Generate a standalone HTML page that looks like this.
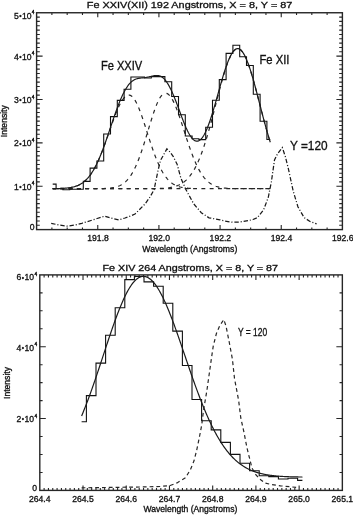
<!DOCTYPE html>
<html><head><meta charset="utf-8"><style>html,body{margin:0;padding:0;background:#fff;width:353px;height:515px;overflow:hidden}svg{filter:grayscale(1)}</style></head>
<body><svg width="353" height="515" viewBox="0 0 353 515" style="display:block">
<rect width="353" height="515" fill="#fff"/>
<path d="M51.89 229.6V227.4M51.89 12.75V14.95M67.18 229.6V227.4M67.18 12.75V14.95M82.47 229.6V227.4M82.47 12.75V14.95M97.76 229.6V225.1M97.76 12.75V17.25M113.05 229.6V227.4M113.05 12.75V14.95M128.34 229.6V227.4M128.34 12.75V14.95M143.63 229.6V227.4M143.63 12.75V14.95M158.92 229.6V225.1M158.92 12.75V17.25M174.21 229.6V227.4M174.21 12.75V14.95M189.5 229.6V227.4M189.5 12.75V14.95M204.79 229.6V227.4M204.79 12.75V14.95M220.08 229.6V225.1M220.08 12.75V17.25M235.37 229.6V227.4M235.37 12.75V14.95M250.66 229.6V227.4M250.66 12.75V14.95M265.95 229.6V227.4M265.95 12.75V14.95M281.24 229.6V225.1M281.24 12.75V17.25M296.53 229.6V227.4M296.53 12.75V14.95M311.82 229.6V227.4M311.82 12.75V14.95M327.11 229.6V227.4M327.11 12.75V14.95M36.6 225.26H39.8M342.4 225.26H339.2M36.6 220.93H39.8M342.4 220.93H339.2M36.6 216.59H39.8M342.4 216.59H339.2M36.6 212.25H39.8M342.4 212.25H339.2M36.6 207.91H39.8M342.4 207.91H339.2M36.6 203.58H39.8M342.4 203.58H339.2M36.6 199.24H39.8M342.4 199.24H339.2M36.6 194.9H39.8M342.4 194.9H339.2M36.6 190.57H39.8M342.4 190.57H339.2M36.6 186.23H42.6M342.4 186.23H336.4M36.6 181.89H39.8M342.4 181.89H339.2M36.6 177.56H39.8M342.4 177.56H339.2M36.6 173.22H39.8M342.4 173.22H339.2M36.6 168.88H39.8M342.4 168.88H339.2M36.6 164.54H39.8M342.4 164.54H339.2M36.6 160.21H39.8M342.4 160.21H339.2M36.6 155.87H39.8M342.4 155.87H339.2M36.6 151.53H39.8M342.4 151.53H339.2M36.6 147.2H39.8M342.4 147.2H339.2M36.6 142.86H42.6M342.4 142.86H336.4M36.6 138.52H39.8M342.4 138.52H339.2M36.6 134.19H39.8M342.4 134.19H339.2M36.6 129.85H39.8M342.4 129.85H339.2M36.6 125.51H39.8M342.4 125.51H339.2M36.6 121.17H39.8M342.4 121.17H339.2M36.6 116.84H39.8M342.4 116.84H339.2M36.6 112.5H39.8M342.4 112.5H339.2M36.6 108.16H39.8M342.4 108.16H339.2M36.6 103.83H39.8M342.4 103.83H339.2M36.6 99.49H42.6M342.4 99.49H336.4M36.6 95.15H39.8M342.4 95.15H339.2M36.6 90.82H39.8M342.4 90.82H339.2M36.6 86.48H39.8M342.4 86.48H339.2M36.6 82.14H39.8M342.4 82.14H339.2M36.6 77.81H39.8M342.4 77.81H339.2M36.6 73.47H39.8M342.4 73.47H339.2M36.6 69.13H39.8M342.4 69.13H339.2M36.6 64.79H39.8M342.4 64.79H339.2M36.6 60.46H39.8M342.4 60.46H339.2M36.6 56.12H42.6M342.4 56.12H336.4M36.6 51.78H39.8M342.4 51.78H339.2M36.6 47.45H39.8M342.4 47.45H339.2M36.6 43.11H39.8M342.4 43.11H339.2M36.6 38.77H39.8M342.4 38.77H339.2M36.6 34.44H39.8M342.4 34.44H339.2M36.6 30.1H39.8M342.4 30.1H339.2M36.6 25.76H39.8M342.4 25.76H339.2M36.6 21.42H39.8M342.4 21.42H339.2M36.6 17.09H39.8M342.4 17.09H339.2" stroke="#262626" stroke-width="1.1" fill="none"/>
<rect x="36.6" y="12.75" width="305.8" height="216.85" stroke="#262626" stroke-width="1.4" fill="none"/>
<path d="M52.7 188.7H270.3" stroke="#262626" stroke-width="1.2" fill="none" stroke-dasharray="3.9 4.4" stroke-dashoffset="0.7"/>
<path d="M52.7 188.65 L53.43 188.64 L54.15 188.63 L54.88 188.62 L55.6 188.61 L56.33 188.59 L57.05 188.58 L57.78 188.56 L58.5 188.54 L59.23 188.52 L59.95 188.49 L60.68 188.47 L61.4 188.44 L62.13 188.4 L62.85 188.36 L63.58 188.32 L64.31 188.27 L65.03 188.21 L65.76 188.15 L66.48 188.08 L67.21 188 L67.93 187.92 L68.66 187.83 L69.38 187.72 L70.11 187.61 L70.83 187.48 L71.56 187.34 L72.28 187.19 L73.01 187.02 L73.73 186.84 L74.46 186.64 L75.19 186.42 L75.91 186.18 L76.64 185.92 L77.36 185.64 L78.09 185.33 L78.81 185 L79.54 184.64 L80.26 184.25 L80.99 183.83 L81.71 183.38 L82.44 182.89 L83.16 182.37 L83.89 181.81 L84.61 181.21 L85.34 180.57 L86.07 179.88 L86.79 179.15 L87.52 178.38 L88.24 177.56 L88.97 176.69 L89.69 175.76 L90.42 174.79 L91.14 173.76 L91.87 172.68 L92.59 171.55 L93.32 170.35 L94.04 169.11 L94.77 167.8 L95.49 166.44 L96.22 165.02 L96.95 163.55 L97.67 162.02 L98.4 160.44 L99.12 158.8 L99.85 157.11 L100.57 155.37 L101.3 153.58 L102.02 151.75 L102.75 149.87 L103.47 147.96 L104.2 146 L104.92 144.02 L105.65 142 L106.37 139.96 L107.1 137.9 L107.83 135.83 L108.55 133.74 L109.28 131.65 L110 129.56 L110.73 127.48 L111.45 125.41 L112.18 123.35 L112.9 121.33 L113.63 119.33 L114.35 117.37 L115.08 115.46 L115.8 113.59 L116.53 111.78 L117.25 110.04 L117.98 108.36 L118.71 106.77 L119.43 105.25 L120.16 103.82 L120.88 102.48 L121.61 101.24 L122.33 100.1 L123.06 99.07 L123.78 98.14 L124.51 97.34 L125.23 96.65 L125.96 96.08 L126.68 95.64 L127.41 95.31 L128.13 95.12 L128.86 95.05 L129.59 95.12 L130.31 95.34 L131.04 95.7 L131.76 96.22 L132.49 96.88 L133.21 97.68 L133.94 98.61 L134.66 99.68 L135.39 100.88 L136.11 102.2 L136.84 103.64 L137.56 105.19 L138.29 106.84 L139.01 108.59 L139.74 110.42 L140.47 112.34 L141.19 114.32 L141.92 116.37 L142.64 118.48 L143.37 120.64 L144.09 122.83 L144.82 125.06 L145.54 127.31 L146.27 129.57 L146.99 131.85 L147.72 134.12 L148.44 136.38 L149.17 138.64 L149.89 140.87 L150.62 143.07 L151.35 145.25 L152.07 147.38 L152.8 149.48 L153.52 151.52 L154.25 153.52 L154.97 155.46 L155.7 157.35 L156.42 159.18 L157.15 160.94 L157.87 162.64 L158.6 164.28 L159.32 165.85 L160.05 167.35 L160.77 168.79 L161.5 170.16 L162.23 171.46 L162.95 172.7 L163.68 173.87 L164.4 174.98 L165.13 176.02 L165.85 177.01 L166.58 177.93 L167.3 178.8 L168.03 179.61 L168.75 180.37 L169.48 181.08 L170.2 181.74 L170.93 182.35 L171.65 182.92 L172.38 183.44 L173.11 183.93 L173.83 184.38 L174.56 184.79 L175.28 185.17 L176.01 185.51 L176.73 185.83 L177.46 186.12 L178.18 186.38 L178.91 186.63 L179.63 186.84 L180.36 187.04 L181.08 187.22 L181.81 187.38 L182.53 187.53 L183.26 187.66 L183.99 187.78 L184.71 187.89 L185.44 187.98 L186.16 188.07 L186.89 188.14 L187.61 188.21 L188.34 188.27 L189.06 188.32 L189.79 188.37 L190.51 188.41 L191.24 188.45 L191.96 188.48" stroke="#262626" stroke-width="1.2" fill="none" stroke-dasharray="3.9 4.4" stroke-dashoffset="0.7"/>
<path d="M52.7 188.7 L53.43 188.7 L54.15 188.7 L54.88 188.7 L55.6 188.7 L56.33 188.7 L57.05 188.7 L57.78 188.7 L58.5 188.7 L59.23 188.7 L59.95 188.7 L60.68 188.7 L61.4 188.7 L62.13 188.7 L62.85 188.7 L63.58 188.7 L64.31 188.7 L65.03 188.7 L65.76 188.7 L66.48 188.7 L67.21 188.7 L67.93 188.7 L68.66 188.7 L69.38 188.7 L70.11 188.7 L70.83 188.7 L71.56 188.7 L72.28 188.7 L73.01 188.7 L73.73 188.7 L74.46 188.7 L75.19 188.7 L75.91 188.7 L76.64 188.7 L77.36 188.7 L78.09 188.7 L78.81 188.7 L79.54 188.7 L80.26 188.7 L80.99 188.7 L81.71 188.7 L82.44 188.7 L83.16 188.7 L83.89 188.7 L84.61 188.7 L85.34 188.7 L86.07 188.7 L86.79 188.7 L87.52 188.7 L88.24 188.69 L88.97 188.69 L89.69 188.69 L90.42 188.69 L91.14 188.69 L91.87 188.69 L92.59 188.68 L93.32 188.68 L94.04 188.68 L94.77 188.67 L95.49 188.67 L96.22 188.66 L96.95 188.66 L97.67 188.65 L98.4 188.64 L99.12 188.63 L99.85 188.62 L100.57 188.61 L101.3 188.59 L102.02 188.57 L102.75 188.55 L103.47 188.53 L104.2 188.5 L104.92 188.47 L105.65 188.43 L106.37 188.39 L107.1 188.35 L107.83 188.29 L108.55 188.24 L109.28 188.17 L110 188.09 L110.73 188.01 L111.45 187.91 L112.18 187.8 L112.9 187.68 L113.63 187.55 L114.35 187.4 L115.08 187.23 L115.8 187.04 L116.53 186.84 L117.25 186.61 L117.98 186.35 L118.71 186.08 L119.43 185.77 L120.16 185.43 L120.88 185.06 L121.61 184.66 L122.33 184.21 L123.06 183.73 L123.78 183.21 L124.51 182.64 L125.23 182.02 L125.96 181.36 L126.68 180.64 L127.41 179.86 L128.13 179.03 L128.86 178.14 L129.59 177.18 L130.31 176.17 L131.04 175.08 L131.76 173.93 L132.49 172.71 L133.21 171.41 L133.94 170.04 L134.66 168.6 L135.39 167.09 L136.11 165.5 L136.84 163.84 L137.56 162.11 L138.29 160.3 L139.01 158.43 L139.74 156.49 L140.47 154.48 L141.19 152.41 L141.92 150.28 L142.64 148.09 L143.37 145.86 L144.09 143.58 L144.82 141.26 L145.54 138.91 L146.27 136.53 L146.99 134.13 L147.72 131.73 L148.44 129.32 L149.17 126.91 L149.89 124.52 L150.62 122.15 L151.35 119.81 L152.07 117.52 L152.8 115.27 L153.52 113.09 L154.25 110.97 L154.97 108.93 L155.7 106.99 L156.42 105.14 L157.15 103.39 L157.87 101.76 L158.6 100.25 L159.32 98.87 L160.05 97.63 L160.77 96.53 L161.5 95.58 L162.23 94.78 L162.95 94.14 L163.68 93.66 L164.4 93.34 L165.13 93.19" stroke="#262626" stroke-width="1.2" fill="none" stroke-dasharray="3.9 4.4" stroke-dashoffset="0.7"/>
<path d="M165.44 93.17 L165.85 93.19 L166.58 93.35 L167.3 93.64 L168.03 94.08 L168.75 94.66 L169.48 95.38 L170.2 96.23 L170.93 97.22 L171.65 98.32 L172.38 99.55 L173.11 100.9 L173.83 102.36 L174.56 103.92 L175.28 105.57 L176.01 107.32 L176.73 109.15 L177.46 111.06 L178.18 113.04 L178.91 115.08 L179.63 117.17 L180.36 119.3 L181.08 121.48 L181.81 123.68 L182.53 125.91 L183.26 128.15 L183.99 130.4 L184.71 132.65 L185.44 134.9 L186.16 137.13 L186.89 139.35 L187.61 141.54 L188.34 143.7 L189.06 145.83 L189.79 147.92 L190.51 149.97 L191.24 151.97 L191.96 153.91 L192.69 155.81 L193.41 157.65 L194.14 159.43 L194.87 161.15 L195.59 162.81 L196.32 164.4 L197.04 165.93 L197.77 167.4 L198.49 168.8 L199.22 170.14 L199.94 171.41 L200.67 172.62 L201.39 173.77 L202.12 174.86 L202.84 175.89 L203.57 176.86 L204.29 177.77 L205.02 178.63 L205.75 179.43 L206.47 180.18 L207.2 180.89 L207.92 181.54 L208.65 182.15 L209.37 182.72 L210.1 183.25 L210.82 183.74 L211.55 184.19 L212.27 184.6 L213 184.99 L213.72 185.34 L214.45 185.66 L215.17 185.96 L215.9 186.23 L216.63 186.48 L217.35 186.71 L218.08 186.91 L218.8 187.1 L219.53 187.27 L220.25 187.42 L220.98 187.56 L221.7 187.69 L222.43 187.8 L223.15 187.9 L223.88 187.99 L224.6 188.07 L225.33 188.15 L226.05 188.21 L226.78 188.27 L227.51 188.32 L228.23 188.37 L228.96 188.41 L229.68 188.45 L230.41 188.48 L231.13 188.51 L231.86 188.53 L232.58 188.55 L233.31 188.57 L234.03 188.59 L234.76 188.6 L235.48 188.62 L236.21 188.63 L236.93 188.64 L237.66 188.65 L238.39 188.65 L239.11 188.66 L239.84 188.67 L240.56 188.67 L241.29 188.68 L242.01 188.68 L242.74 188.68 L243.46 188.68 L244.19 188.69 L244.91 188.69 L245.64 188.69 L246.36 188.69 L247.09 188.69 L247.81 188.69 L248.54 188.7 L249.27 188.7 L249.99 188.7 L250.72 188.7 L251.44 188.7 L252.17 188.7 L252.89 188.7 L253.62 188.7 L254.34 188.7 L255.07 188.7 L255.79 188.7 L256.52 188.7 L257.24 188.7 L257.97 188.7 L258.69 188.7 L259.42 188.7 L260.15 188.7 L260.87 188.7 L261.6 188.7 L262.32 188.7 L263.05 188.7 L263.77 188.7 L264.5 188.7 L265.22 188.7 L265.95 188.7 L266.67 188.7 L267.4 188.7 L268.12 188.7 L268.85 188.7 L269.57 188.7 L270.3 188.7" stroke="#262626" stroke-width="1.2" fill="none" stroke-dasharray="3.9 4.4" stroke-dashoffset="7.19"/>
<path d="M52.7 188.7 L53.43 188.7 L54.15 188.7 L54.88 188.7 L55.6 188.7 L56.33 188.7 L57.05 188.7 L57.78 188.7 L58.5 188.7 L59.23 188.7 L59.95 188.7 L60.68 188.7 L61.4 188.7 L62.13 188.7 L62.85 188.7 L63.58 188.7 L64.31 188.7 L65.03 188.7 L65.76 188.7 L66.48 188.7 L67.21 188.7 L67.93 188.7 L68.66 188.7 L69.38 188.7 L70.11 188.7 L70.83 188.7 L71.56 188.7 L72.28 188.7 L73.01 188.7 L73.73 188.7 L74.46 188.7 L75.19 188.7 L75.91 188.7 L76.64 188.7 L77.36 188.7 L78.09 188.7 L78.81 188.7 L79.54 188.7 L80.26 188.7 L80.99 188.7 L81.71 188.7 L82.44 188.7 L83.16 188.7 L83.89 188.7 L84.61 188.7 L85.34 188.7 L86.07 188.7 L86.79 188.7 L87.52 188.7 L88.24 188.7 L88.97 188.7 L89.69 188.7 L90.42 188.7 L91.14 188.7 L91.87 188.7 L92.59 188.7 L93.32 188.7 L94.04 188.7 L94.77 188.7 L95.49 188.7 L96.22 188.7 L96.95 188.7 L97.67 188.7 L98.4 188.7 L99.12 188.7 L99.85 188.7 L100.57 188.7 L101.3 188.7 L102.02 188.7 L102.75 188.7 L103.47 188.7 L104.2 188.7 L104.92 188.7 L105.65 188.7 L106.37 188.7 L107.1 188.7 L107.83 188.7 L108.55 188.7 L109.28 188.7 L110 188.7 L110.73 188.7 L111.45 188.7 L112.18 188.7 L112.9 188.7 L113.63 188.7 L114.35 188.7 L115.08 188.7 L115.8 188.7 L116.53 188.7 L117.25 188.7 L117.98 188.7 L118.71 188.7 L119.43 188.7 L120.16 188.7 L120.88 188.7 L121.61 188.7 L122.33 188.7 L123.06 188.7 L123.78 188.7 L124.51 188.7 L125.23 188.7 L125.96 188.7 L126.68 188.7 L127.41 188.7 L128.13 188.7 L128.86 188.7 L129.59 188.7 L130.31 188.7 L131.04 188.7 L131.76 188.7 L132.49 188.7 L133.21 188.7 L133.94 188.7 L134.66 188.7 L135.39 188.7 L136.11 188.7 L136.84 188.7 L137.56 188.7 L138.29 188.7 L139.01 188.69 L139.74 188.69 L140.47 188.69 L141.19 188.69 L141.92 188.69 L142.64 188.69 L143.37 188.69 L144.09 188.69 L144.82 188.68 L145.54 188.68 L146.27 188.68 L146.99 188.68 L147.72 188.67 L148.44 188.67 L149.17 188.66 L149.89 188.66 L150.62 188.65 L151.35 188.64 L152.07 188.64 L152.8 188.63 L153.52 188.62 L154.25 188.61 L154.97 188.59 L155.7 188.58 L156.42 188.56 L157.15 188.55 L157.87 188.53 L158.6 188.5 L159.32 188.48 L160.05 188.45 L160.77 188.42 L161.5 188.39 L162.23 188.35 L162.95 188.3 L163.68 188.26 L164.4 188.2 L165.13 188.15 L165.85 188.08 L166.58 188.01 L167.3 187.93 L168.03 187.85 L168.75 187.75 L169.48 187.65 L170.2 187.53 L170.93 187.4 L171.65 187.27 L172.38 187.12 L173.11 186.95 L173.83 186.77 L174.56 186.58 L175.28 186.36 L176.01 186.13 L176.73 185.88 L177.46 185.61 L178.18 185.31 L178.91 184.99 L179.63 184.65 L180.36 184.28 L181.08 183.87 L181.81 183.44 L182.53 182.98 L183.26 182.48 L183.99 181.95 L184.71 181.37 L185.44 180.76 L186.16 180.11 L186.89 179.41 L187.61 178.67 L188.34 177.88 L189.06 177.04 L189.79 176.16 L190.51 175.21 L191.24 174.22 L191.96 173.16 L192.69 172.05 L193.41 170.88 L194.14 169.64 L194.87 168.35 L195.59 166.99 L196.32 165.56 L197.04 164.07 L197.77 162.51 L198.49 160.88 L199.22 159.19 L199.94 157.42 L200.67 155.59 L201.39 153.69 L202.12 151.71 L202.84 149.68 L203.57 147.57 L204.29 145.4 L205.02 143.16 L205.75 140.86 L206.47 138.5 L207.2 136.08 L207.92 133.61 L208.65 131.09 L209.37 128.51 L210.1 125.89 L210.82 123.23 L211.55 120.53 L212.27 117.79 L213 115.03 L213.72 112.24 L214.45 109.44 L215.17 106.63 L215.9 103.81 L216.63 100.99 L217.35 98.17 L218.08 95.37 L218.8 92.59 L219.53 89.83 L220.25 87.11 L220.98 84.42 L221.7 81.79 L222.43 79.21 L223.15 76.69 L223.88 74.24 L224.6 71.86 L225.33 69.57 L226.05 67.36 L226.78 65.25 L227.51 63.24 L228.23 61.34 L228.96 59.56 L229.68 57.89 L230.41 56.35 L231.13 54.94 L231.86 53.66 L232.58 52.52 L233.31 51.53 L234.03 50.67 L234.76 49.97 L235.48 49.42 L236.21 49.01 L236.93 48.77 L237.66 48.67 L238.39 48.73 L239.11 48.94 L239.84 49.31 L240.56 49.83 L241.29 50.49 L242.01 51.31 L242.74 52.27 L243.46 53.37 L244.19 54.6 L244.91 55.98 L245.64 57.48 L246.36 59.11 L247.09 60.86 L247.81 62.72 L248.54 64.69 L249.27 66.76 L249.99 68.93 L250.72 71.19 L251.44 73.54 L252.17 75.96 L252.89 78.45 L253.62 81.01 L254.34 83.62 L255.07 86.28 L255.79 88.98 L256.52 91.71 L257.24 94.48 L257.97 97.27 L258.69 100.07 L259.42 102.88 L260.15 105.69 L260.87 108.49 L261.6 111.29 L262.32 114.07 L263.05 116.83 L263.77 119.57 L264.5 122.27 L265.22 124.94 L265.95 127.56 L266.67 130.15 L267.4 132.68 L268.12 135.17 L268.85 137.6 L269.57 139.97 L270.3 142.28" stroke="#262626" stroke-width="1.2" fill="none" stroke-dasharray="3.9 4.4" stroke-dashoffset="0.7"/>
<path d="M52.7 184.1 L56.1 184.1 L56.1 188.6 L62.9 188.6 L62.9 189.8 L69.7 189.8 L69.7 189.3 L76.5 189.3 L76.5 189.2 L83.3 189.2 L83.3 181.4 L90.1 181.4 L90.1 168.1 L96.9 168.1 L96.9 161 L103.7 161 L103.7 134 L110.5 134 L110.5 116.6 L117.3 116.6 L117.3 100.4 L124.1 100.4 L124.1 89.2 L130.9 89.2 L130.9 77 L137.7 77 L137.7 77 L144.5 77 L144.5 78 L151.3 78 L151.3 76.6 L158.1 76.6 L158.1 76.6 L164.9 76.6 L164.9 81.7 L171.7 81.7 L171.7 96.5 L178.5 96.5 L178.5 114.7 L185.3 114.7 L185.3 136 L192.1 136 L192.1 138.8 L198.9 138.8 L198.9 139.6 L205.7 139.6 L205.7 127.3 L212.5 127.3 L212.5 100.3 L219.3 100.3 L219.3 79.6 L226.1 79.6 L226.1 53.4 L232.9 53.4 L232.9 45.2 L239.7 45.2 L239.7 56.8 L246.5 56.8 L246.5 65.5 L253.3 65.5 L253.3 94.2 L260.1 94.2 L260.1 121.3 L266.9 121.3 L266.9 139.5 L270.3 139.5" stroke="#111" stroke-width="1.1" fill="none"/>
<path d="M52.7 188.65 L53.43 188.64 L54.15 188.63 L54.88 188.62 L55.6 188.61 L56.33 188.59 L57.05 188.58 L57.78 188.56 L58.5 188.54 L59.23 188.52 L59.95 188.49 L60.68 188.47 L61.4 188.44 L62.13 188.4 L62.85 188.36 L63.58 188.32 L64.31 188.27 L65.03 188.21 L65.76 188.15 L66.48 188.08 L67.21 188 L67.93 187.92 L68.66 187.83 L69.38 187.72 L70.11 187.61 L70.83 187.48 L71.56 187.34 L72.28 187.19 L73.01 187.02 L73.73 186.84 L74.46 186.64 L75.19 186.42 L75.91 186.18 L76.64 185.92 L77.36 185.64 L78.09 185.33 L78.81 185 L79.54 184.64 L80.26 184.25 L80.99 183.83 L81.71 183.38 L82.44 182.89 L83.16 182.37 L83.89 181.8 L84.61 181.2 L85.34 180.56 L86.07 179.88 L86.79 179.15 L87.52 178.38 L88.24 177.55 L88.97 176.68 L89.69 175.76 L90.42 174.78 L91.14 173.75 L91.87 172.67 L92.59 171.53 L93.32 170.34 L94.04 169.09 L94.77 167.78 L95.49 166.41 L96.22 164.99 L96.95 163.51 L97.67 161.97 L98.4 160.38 L99.12 158.73 L99.85 157.03 L100.57 155.28 L101.3 153.47 L102.02 151.62 L102.75 149.73 L103.47 147.79 L104.2 145.8 L104.92 143.79 L105.65 141.74 L106.37 139.66 L107.1 137.55 L107.83 135.42 L108.55 133.28 L109.28 131.12 L110 128.95 L110.73 126.78 L111.45 124.62 L112.18 122.46 L112.9 120.31 L113.63 118.18 L114.35 116.07 L115.08 113.99 L115.8 111.93 L116.53 109.92 L117.25 107.95 L117.98 106.02 L118.71 104.14 L119.43 102.32 L120.16 100.55 L120.88 98.84 L121.61 97.19 L122.33 95.61 L123.06 94.1 L123.78 92.65 L124.51 91.28 L125.23 89.97 L125.96 88.74 L126.68 87.57 L127.41 86.48 L128.13 85.45 L128.86 84.49 L129.59 83.6 L130.31 82.8 L131.04 82.09 L131.76 81.45 L132.49 80.88 L133.21 80.39 L133.94 79.96 L134.66 79.59 L135.39 79.27 L136.11 79 L136.84 78.78 L137.56 78.59 L138.29 78.44 L139.01 78.31 L139.74 78.2 L140.47 78.11 L141.19 78.02 L141.92 77.94 L142.64 77.86 L143.37 77.78 L144.09 77.7 L144.82 77.6 L145.54 77.5 L146.27 77.38 L146.99 77.26 L147.72 77.12 L148.44 76.97 L149.17 76.81 L149.89 76.64 L150.62 76.47 L151.35 76.3 L152.07 76.14 L152.8 75.98 L153.52 75.83 L154.25 75.7 L154.97 75.59 L155.7 75.52 L156.42 75.48 L157.15 75.48 L157.87 75.53 L158.6 75.63 L159.32 75.8 L160.05 76.03 L160.77 76.34 L161.5 76.72 L162.23 77.19 L162.95 77.74 L163.68 78.38 L164.4 79.12 L165.13 79.95 L165.85 80.88 L166.58 81.89 L167.3 82.98 L168.03 84.14 L168.75 85.39 L169.48 86.71 L170.2 88.1 L170.93 89.57 L171.65 91.11 L172.38 92.71 L173.11 94.38 L173.83 96.1 L174.56 97.88 L175.28 99.7 L176.01 101.57 L176.73 103.46 L177.46 105.39 L178.18 107.34 L178.91 109.29 L179.63 111.26 L180.36 113.22 L181.08 115.17 L181.81 117.11 L182.53 119.02 L183.26 120.89 L183.99 122.73 L184.71 124.51 L185.44 126.24 L186.16 127.91 L186.89 129.5 L187.61 131.02 L188.34 132.46 L189.06 133.8 L189.79 135.05 L190.51 136.19 L191.24 137.23 L191.96 138.16 L192.69 138.97 L193.41 139.66 L194.14 140.23 L194.87 140.67 L195.59 140.99 L196.32 141.17 L197.04 141.22 L197.77 141.14 L198.49 140.92 L199.22 140.57 L199.94 140.09 L200.67 139.47 L201.39 138.73 L202.12 137.85 L202.84 136.84 L203.57 135.71 L204.29 134.45 L205.02 133.07 L205.75 131.58 L206.47 129.98 L207.2 128.26 L207.92 126.45 L208.65 124.53 L209.37 122.53 L210.1 120.43 L210.82 118.26 L211.55 116.01 L212.27 113.69 L213 111.32 L213.72 108.88 L214.45 106.41 L215.17 103.89 L215.9 101.34 L216.63 98.77 L217.35 96.18 L218.08 93.58 L218.8 90.98 L219.53 88.4 L220.25 85.83 L220.98 83.28 L221.7 80.77 L222.43 78.31 L223.15 75.89 L223.88 73.53 L224.6 71.23 L225.33 69.01 L226.05 66.87 L226.78 64.82 L227.51 62.87 L228.23 61.01 L228.96 59.27 L229.68 57.64 L230.41 56.13 L231.13 54.75 L231.86 53.49 L232.58 52.38 L233.31 51.4 L234.03 50.56 L234.76 49.87 L235.48 49.33 L236.21 48.94 L236.93 48.7 L237.66 48.62 L238.39 48.68 L239.11 48.9 L239.84 49.28 L240.56 49.8 L241.29 50.47 L242.01 51.29 L242.74 52.25 L243.46 53.35 L244.19 54.59 L244.91 55.97 L245.64 57.47 L246.36 59.1 L247.09 60.85 L247.81 62.71 L248.54 64.68 L249.27 66.76 L249.99 68.93 L250.72 71.19 L251.44 73.54 L252.17 75.96 L252.89 78.45 L253.62 81.01 L254.34 83.62 L255.07 86.28 L255.79 88.98 L256.52 91.71 L257.24 94.48 L257.97 97.27 L258.69 100.07 L259.42 102.88 L260.15 105.69 L260.87 108.49 L261.6 111.29 L262.32 114.07 L263.05 116.83 L263.77 119.57 L264.5 122.27 L265.22 124.94 L265.95 127.56 L266.67 130.15 L267.4 132.68 L268.12 135.17 L268.85 137.6 L269.57 139.97 L270.3 142.28" stroke="#1a1a1a" stroke-width="1.2" fill="none"/>
<path d="M51.2 223.3 L59 225 L67.7 226.2 L75 225 L81.8 223.3 L91 220.5 L101.7 217.1 L104.5 216.2 L111 218 L118.7 219.9 L125 218 L130 216.2 L135 214 L138.5 210.6 L145.2 203.8 L150 197 L154.1 189.7 L158 170.6 L160.5 160.4 L166.9 148.9 L170 152 L173.3 156.6 L177.1 164.2 L180.9 178.3 L186 189.7 L193.7 203.8 L201.3 212.7 L209 217.8 L220 219.8 L225 221.1 L232.5 222.2 L240 222 L248 220.7 L253 219.5 L257.4 217.6 L263.6 209.8 L268.3 197.3 L271.4 181.7 L274.5 159.9 L277.6 153.7 L282.3 147.5 L285.4 156.8 L288.5 169.3 L293.2 191.1 L297.9 206.7 L304.1 217.6 L310 221.5 L316.6 223.8" stroke="#1a1a1a" stroke-width="1.25" fill="none" stroke-dasharray="4.4 1.9 1.1 1.9"/>
<text x="189.6" y="8.3" text-anchor="middle" style="font-family:'Liberation Sans', sans-serif;fill:#111;stroke:#111;stroke-width:0.32px;font-size:9.6px" textLength="205.5" lengthAdjust="spacingAndGlyphs">Fe XXIV(XII) 192 Angstroms, X = 8, Y = 87</text>
<text x="98.06" y="240.9" text-anchor="middle" style="font-family:'Liberation Sans', sans-serif;fill:#111;stroke:#111;stroke-width:0.32px;font-size:8.6px">191.8</text>
<text x="159.22" y="240.9" text-anchor="middle" style="font-family:'Liberation Sans', sans-serif;fill:#111;stroke:#111;stroke-width:0.32px;font-size:8.6px">192.0</text>
<text x="220.38" y="240.9" text-anchor="middle" style="font-family:'Liberation Sans', sans-serif;fill:#111;stroke:#111;stroke-width:0.32px;font-size:8.6px">192.2</text>
<text x="281.54" y="240.9" text-anchor="middle" style="font-family:'Liberation Sans', sans-serif;fill:#111;stroke:#111;stroke-width:0.32px;font-size:8.6px">192.4</text>
<text x="342.7" y="240.9" text-anchor="middle" style="font-family:'Liberation Sans', sans-serif;fill:#111;stroke:#111;stroke-width:0.32px;font-size:8.6px">192.6</text>
<text x="189.8" y="251.5" text-anchor="middle" style="font-family:'Liberation Sans', sans-serif;fill:#111;stroke:#111;stroke-width:0.32px;font-size:8.6px" textLength="95" lengthAdjust="spacingAndGlyphs">Wavelength (Angstroms)</text>
<text transform="translate(6.9 121.2) rotate(-90)" text-anchor="middle" style="font-family:'Liberation Sans', sans-serif;fill:#111;stroke:#111;stroke-width:0.32px;font-size:8.6px">Intensity</text>
<text x="29.7" y="229.6" style="font-family:'Liberation Sans', sans-serif;fill:#111;stroke:#111;stroke-width:0.32px;font-size:8.6px">0</text>
<text x="13.9" y="189.7" style="font-family:'Liberation Sans', sans-serif;fill:#111;stroke:#111;stroke-width:0.32px;font-size:8.6px">1<tspan x="19.2" dy="-0.7" style="font-size:6.6px">•</tspan><tspan x="21.95" dy="0.7">10</tspan><tspan x="31.8" dy="-4.3" style="font-size:4.8px">4</tspan></text>
<text x="13.9" y="146.4" style="font-family:'Liberation Sans', sans-serif;fill:#111;stroke:#111;stroke-width:0.32px;font-size:8.6px">2<tspan x="19.2" dy="-0.7" style="font-size:6.6px">•</tspan><tspan x="21.95" dy="0.7">10</tspan><tspan x="31.8" dy="-4.3" style="font-size:4.8px">4</tspan></text>
<text x="13.9" y="103" style="font-family:'Liberation Sans', sans-serif;fill:#111;stroke:#111;stroke-width:0.32px;font-size:8.6px">3<tspan x="19.2" dy="-0.7" style="font-size:6.6px">•</tspan><tspan x="21.95" dy="0.7">10</tspan><tspan x="31.8" dy="-4.3" style="font-size:4.8px">4</tspan></text>
<text x="13.9" y="59.7" style="font-family:'Liberation Sans', sans-serif;fill:#111;stroke:#111;stroke-width:0.32px;font-size:8.6px">4<tspan x="19.2" dy="-0.7" style="font-size:6.6px">•</tspan><tspan x="21.95" dy="0.7">10</tspan><tspan x="31.8" dy="-4.3" style="font-size:4.8px">4</tspan></text>
<text x="13.9" y="18.5" style="font-family:'Liberation Sans', sans-serif;fill:#111;stroke:#111;stroke-width:0.32px;font-size:8.6px">5<tspan x="19.2" dy="-0.7" style="font-size:6.6px">•</tspan><tspan x="21.95" dy="0.7">10</tspan><tspan x="31.8" dy="-4.3" style="font-size:4.8px">4</tspan></text>
<text x="100.9" y="70.2" style="font-family:'Liberation Sans', sans-serif;fill:#111;stroke:#111;stroke-width:0.32px;font-size:12.4px" textLength="41.4" lengthAdjust="spacingAndGlyphs">Fe XXIV</text>
<text x="259.4" y="64.2" style="font-family:'Liberation Sans', sans-serif;fill:#111;stroke:#111;stroke-width:0.32px;font-size:12.3px" textLength="30" lengthAdjust="spacingAndGlyphs">Fe XII</text>
<text x="290" y="149.7" style="font-family:'Liberation Sans', sans-serif;fill:#111;stroke:#111;stroke-width:0.32px;font-size:12.6px" textLength="37.6" lengthAdjust="spacingAndGlyphs">Y =120</text>
<path d="M44.12 490.4V487.9M44.12 274.9V277.4M48.44 490.4V487.9M48.44 274.9V277.4M52.77 490.4V487.9M52.77 274.9V277.4M57.09 490.4V487.9M57.09 274.9V277.4M61.41 490.4V487.9M61.41 274.9V277.4M65.73 490.4V487.9M65.73 274.9V277.4M70.05 490.4V487.9M70.05 274.9V277.4M74.38 490.4V487.9M74.38 274.9V277.4M78.7 490.4V487.9M78.7 274.9V277.4M83.02 490.4V485.4M83.02 274.9V279.9M87.34 490.4V487.9M87.34 274.9V277.4M91.67 490.4V487.9M91.67 274.9V277.4M95.99 490.4V487.9M95.99 274.9V277.4M100.31 490.4V487.9M100.31 274.9V277.4M104.63 490.4V487.9M104.63 274.9V277.4M108.95 490.4V487.9M108.95 274.9V277.4M113.28 490.4V487.9M113.28 274.9V277.4M117.6 490.4V487.9M117.6 274.9V277.4M121.92 490.4V487.9M121.92 274.9V277.4M126.24 490.4V485.4M126.24 274.9V279.9M130.56 490.4V487.9M130.56 274.9V277.4M134.89 490.4V487.9M134.89 274.9V277.4M139.21 490.4V487.9M139.21 274.9V277.4M143.53 490.4V487.9M143.53 274.9V277.4M147.85 490.4V487.9M147.85 274.9V277.4M152.18 490.4V487.9M152.18 274.9V277.4M156.5 490.4V487.9M156.5 274.9V277.4M160.82 490.4V487.9M160.82 274.9V277.4M165.14 490.4V487.9M165.14 274.9V277.4M169.46 490.4V485.4M169.46 274.9V279.9M173.79 490.4V487.9M173.79 274.9V277.4M178.11 490.4V487.9M178.11 274.9V277.4M182.43 490.4V487.9M182.43 274.9V277.4M186.75 490.4V487.9M186.75 274.9V277.4M191.07 490.4V487.9M191.07 274.9V277.4M195.4 490.4V487.9M195.4 274.9V277.4M199.72 490.4V487.9M199.72 274.9V277.4M204.04 490.4V487.9M204.04 274.9V277.4M208.36 490.4V487.9M208.36 274.9V277.4M212.69 490.4V485.4M212.69 274.9V279.9M217.01 490.4V487.9M217.01 274.9V277.4M221.33 490.4V487.9M221.33 274.9V277.4M225.65 490.4V487.9M225.65 274.9V277.4M229.97 490.4V487.9M229.97 274.9V277.4M234.3 490.4V487.9M234.3 274.9V277.4M238.62 490.4V487.9M238.62 274.9V277.4M242.94 490.4V487.9M242.94 274.9V277.4M247.26 490.4V487.9M247.26 274.9V277.4M251.58 490.4V487.9M251.58 274.9V277.4M255.91 490.4V485.4M255.91 274.9V279.9M260.23 490.4V487.9M260.23 274.9V277.4M264.55 490.4V487.9M264.55 274.9V277.4M268.87 490.4V487.9M268.87 274.9V277.4M273.2 490.4V487.9M273.2 274.9V277.4M277.52 490.4V487.9M277.52 274.9V277.4M281.84 490.4V487.9M281.84 274.9V277.4M286.16 490.4V487.9M286.16 274.9V277.4M290.48 490.4V487.9M290.48 274.9V277.4M294.81 490.4V487.9M294.81 274.9V277.4M299.13 490.4V485.4M299.13 274.9V279.9M303.45 490.4V487.9M303.45 274.9V277.4M307.77 490.4V487.9M307.77 274.9V277.4M312.1 490.4V487.9M312.1 274.9V277.4M316.42 490.4V487.9M316.42 274.9V277.4M320.74 490.4V487.9M320.74 274.9V277.4M325.06 490.4V487.9M325.06 274.9V277.4M329.38 490.4V487.9M329.38 274.9V277.4M333.71 490.4V487.9M333.71 274.9V277.4M338.03 490.4V487.9M338.03 274.9V277.4M39.8 472.44H42.6M342.35 472.44H339.55M39.8 454.48H42.6M342.35 454.48H339.55M39.8 436.52H42.6M342.35 436.52H339.55M39.8 418.57H45.8M342.35 418.57H336.35M39.8 400.61H42.6M342.35 400.61H339.55M39.8 382.65H42.6M342.35 382.65H339.55M39.8 364.69H42.6M342.35 364.69H339.55M39.8 346.73H45.8M342.35 346.73H336.35M39.8 328.77H42.6M342.35 328.77H339.55M39.8 310.82H42.6M342.35 310.82H339.55M39.8 292.86H42.6M342.35 292.86H339.55" stroke="#262626" stroke-width="1.1" fill="none"/>
<rect x="39.8" y="274.9" width="302.55" height="215.5" stroke="#262626" stroke-width="1.4" fill="none"/>
<path d="M81.6 421.8 L86.4 421.8 L86.4 395.6 L96 395.6 L96 363.1 L105.6 363.1 L105.6 335.2 L115.2 335.2 L115.2 307.7 L124.8 307.7 L124.8 279.6 L134.4 279.6 L134.4 276.5 L144 276.5 L144 281.9 L153.6 281.9 L153.6 286.3 L163.2 286.3 L163.2 303.2 L172.8 303.2 L172.8 331.1 L182.4 331.1 L182.4 365.5 L192 365.5 L192 399.5 L201.6 399.5 L201.6 420.7 L211.2 420.7 L211.2 429.9 L220.8 429.9 L220.8 442.4 L230.4 442.4 L230.4 454.4 L240 454.4 L240 463.2 L249.6 463.2 L249.6 470.8 L259.2 470.8 L259.2 475.8 L268.8 475.8 L268.8 476.6 L278.4 476.6 L278.4 479 L288 479 L288 478.3 L297.6 478.3 L297.6 480.4 L302.4 480.4" stroke="#111" stroke-width="1.1" fill="none"/>
<path d="M81.6 415.92 L82.34 414.17 L83.07 412.4 L83.81 410.59 L84.54 408.76 L85.28 406.9 L86.02 405.02 L86.75 403.11 L87.49 401.17 L88.22 399.21 L88.96 397.23 L89.7 395.22 L90.43 393.2 L91.17 391.15 L91.9 389.08 L92.64 386.99 L93.38 384.88 L94.11 382.76 L94.85 380.62 L95.58 378.47 L96.32 376.3 L97.06 374.11 L97.79 371.92 L98.53 369.72 L99.26 367.5 L100 365.28 L100.74 363.05 L101.47 360.82 L102.21 358.59 L102.94 356.35 L103.68 354.11 L104.42 351.87 L105.15 349.64 L105.89 347.4 L106.62 345.18 L107.36 342.96 L108.1 340.75 L108.83 338.55 L109.57 336.36 L110.3 334.19 L111.04 332.03 L111.78 329.89 L112.51 327.77 L113.25 325.66 L113.98 323.58 L114.72 321.53 L115.46 319.5 L116.19 317.5 L116.93 315.53 L117.66 313.58 L118.4 311.67 L119.14 309.8 L119.87 307.96 L120.61 306.16 L121.34 304.4 L122.08 302.67 L122.82 301 L123.55 299.36 L124.29 297.77 L125.02 296.23 L125.76 294.73 L126.5 293.29 L127.23 291.89 L127.97 290.55 L128.7 289.27 L129.44 288.03 L130.18 286.86 L130.91 285.74 L131.65 284.68 L132.38 283.68 L133.12 282.74 L133.86 281.86 L134.59 281.04 L135.33 280.29 L136.06 279.6 L136.8 278.98 L137.54 278.42 L138.27 277.92 L139.01 277.5 L139.74 277.13 L140.48 276.84 L141.22 276.61 L141.95 276.46 L142.69 276.36 L143.42 276.34 L144.16 276.38 L144.9 276.49 L145.63 276.65 L146.37 276.88 L147.1 277.18 L147.84 277.53 L148.58 277.95 L149.31 278.43 L150.05 278.97 L150.78 279.57 L151.52 280.23 L152.26 280.95 L152.99 281.73 L153.73 282.57 L154.46 283.47 L155.2 284.42 L155.94 285.43 L156.67 286.49 L157.41 287.6 L158.14 288.77 L158.88 289.99 L159.62 291.27 L160.35 292.59 L161.09 293.95 L161.82 295.37 L162.56 296.83 L163.3 298.34 L164.03 299.89 L164.77 301.48 L165.5 303.11 L166.24 304.78 L166.98 306.49 L167.71 308.24 L168.45 310.01 L169.18 311.83 L169.92 313.67 L170.66 315.55 L171.39 317.45 L172.13 319.38 L172.86 321.34 L173.6 323.32 L174.34 325.32 L175.07 327.35 L175.81 329.39 L176.54 331.45 L177.28 333.53 L178.02 335.62 L178.75 337.73 L179.49 339.85 L180.22 341.98 L180.96 344.12 L181.7 346.26 L182.43 348.41 L183.17 350.57 L183.9 352.73 L184.64 354.89 L185.38 357.05 L186.11 359.21 L186.85 361.36 L187.58 363.52 L188.32 365.67 L189.06 367.81 L189.79 369.94 L190.53 372.07 L191.26 374.19 L192 376.29 L192.74 378.39 L193.47 380.47 L194.21 382.53 L194.94 384.58 L195.68 386.62 L196.42 388.64 L197.15 390.64 L197.89 392.62 L198.62 394.58 L199.36 396.53 L200.1 398.45 L200.83 400.35 L201.57 402.23 L202.3 404.08 L203.04 405.91 L203.78 407.72 L204.51 409.5 L205.25 411.26 L205.98 412.99 L206.72 414.7 L207.46 416.38 L208.19 418.03 L208.93 419.66 L209.66 421.26 L210.4 422.83 L211.14 424.38 L211.87 425.89 L212.61 427.38 L213.34 428.84 L214.08 430.28 L214.82 431.68 L215.55 433.06 L216.29 434.4 L217.02 435.72 L217.76 437.02 L218.5 438.28 L219.23 439.52 L219.97 440.72 L220.7 441.9 L221.44 443.06 L222.18 444.18 L222.91 445.28 L223.65 446.35 L224.38 447.4 L225.12 448.42 L225.86 449.41 L226.59 450.38 L227.33 451.32 L228.06 452.23 L228.8 453.12 L229.54 453.99 L230.27 454.83 L231.01 455.65 L231.74 456.44 L232.48 457.22 L233.22 457.97 L233.95 458.69 L234.69 459.4 L235.42 460.08 L236.16 460.74 L236.9 461.38 L237.63 462.01 L238.37 462.61 L239.1 463.19 L239.84 463.75 L240.58 464.3 L241.31 464.82 L242.05 465.33 L242.78 465.82 L243.52 466.29 L244.26 466.75 L244.99 467.19 L245.73 467.62 L246.46 468.03 L247.2 468.42 L247.94 468.8 L248.67 469.17 L249.41 469.52 L250.14 469.86 L250.88 470.19 L251.62 470.51 L252.35 470.81 L253.09 471.1 L253.82 471.38 L254.56 471.64 L255.3 471.9 L256.03 472.15 L256.77 472.38 L257.5 472.61 L258.24 472.83 L258.98 473.04 L259.71 473.24 L260.45 473.43 L261.18 473.61 L261.92 473.79 L262.66 473.95 L263.39 474.11 L264.13 474.27 L264.86 474.41 L265.6 474.55 L266.34 474.69 L267.07 474.81 L267.81 474.93 L268.54 475.05 L269.28 475.16 L270.02 475.26 L270.75 475.37 L271.49 475.46 L272.22 475.55 L272.96 475.64 L273.7 475.72 L274.43 475.8 L275.17 475.87 L275.9 475.94 L276.64 476.01 L277.38 476.07 L278.11 476.14 L278.85 476.19 L279.58 476.25 L280.32 476.3 L281.06 476.35 L281.79 476.39 L282.53 476.44 L283.26 476.48 L284 476.52 L284.74 476.56 L285.47 476.59 L286.21 476.63 L286.94 476.66 L287.68 476.69 L288.42 476.72 L289.15 476.74 L289.89 476.77 L290.62 476.79 L291.36 476.81 L292.1 476.84 L292.83 476.86 L293.57 476.88 L294.3 476.89 L295.04 476.91 L295.78 476.93 L296.51 476.94 L297.25 476.95 L297.98 476.97 L298.72 476.98 L299.46 476.99 L300.19 477 L300.93 477.01 L301.66 477.02 L302.4 477.03" stroke="#1a1a1a" stroke-width="1.2" fill="none"/>
<path d="M81.6 487.8 L100 487.6 L120 487.3 L140 487 L160 486.5 L170.2 485.5 L177 482.9 L185.5 477.8 L190.6 469.3 L194 460.8 L196.6 450.6 L199.1 438.7 L201.7 425.1 L203.5 410.4 L206.8 391.2 L211 361.3 L213.2 346.3 L216.4 333.5 L219.6 326 L223.8 319.6 L226 326 L229.2 342 L232.4 359.1 L234.5 378.4 L238.7 400.9 L240.8 418 L244 432.4 L247 448 L249.2 456.9 L252 468 L256 475 L260.7 479.7 L264.9 483 L272 484.7 L280.5 485.8 L290.4 486.8 L299.2 487.6" stroke="#262626" stroke-width="1.2" fill="none" stroke-dasharray="3.8 3"/>
<text x="190.3" y="270.9" text-anchor="middle" style="font-family:'Liberation Sans', sans-serif;fill:#111;stroke:#111;stroke-width:0.32px;font-size:9.4px" textLength="175.5" lengthAdjust="spacingAndGlyphs">Fe XIV 264 Angstroms, X = 8, Y = 87</text>
<text x="39.8" y="501.9" text-anchor="middle" style="font-family:'Liberation Sans', sans-serif;fill:#111;stroke:#111;stroke-width:0.32px;font-size:8.6px">264.4</text>
<text x="83.02" y="501.9" text-anchor="middle" style="font-family:'Liberation Sans', sans-serif;fill:#111;stroke:#111;stroke-width:0.32px;font-size:8.6px">264.5</text>
<text x="126.24" y="501.9" text-anchor="middle" style="font-family:'Liberation Sans', sans-serif;fill:#111;stroke:#111;stroke-width:0.32px;font-size:8.6px">264.6</text>
<text x="169.46" y="501.9" text-anchor="middle" style="font-family:'Liberation Sans', sans-serif;fill:#111;stroke:#111;stroke-width:0.32px;font-size:8.6px">264.7</text>
<text x="212.69" y="501.9" text-anchor="middle" style="font-family:'Liberation Sans', sans-serif;fill:#111;stroke:#111;stroke-width:0.32px;font-size:8.6px">264.8</text>
<text x="255.91" y="501.9" text-anchor="middle" style="font-family:'Liberation Sans', sans-serif;fill:#111;stroke:#111;stroke-width:0.32px;font-size:8.6px">264.9</text>
<text x="299.13" y="501.9" text-anchor="middle" style="font-family:'Liberation Sans', sans-serif;fill:#111;stroke:#111;stroke-width:0.32px;font-size:8.6px">265.0</text>
<text x="342.35" y="501.9" text-anchor="middle" style="font-family:'Liberation Sans', sans-serif;fill:#111;stroke:#111;stroke-width:0.32px;font-size:8.6px">265.1</text>
<text x="190.4" y="511.6" text-anchor="middle" style="font-family:'Liberation Sans', sans-serif;fill:#111;stroke:#111;stroke-width:0.32px;font-size:8.6px" textLength="94" lengthAdjust="spacingAndGlyphs">Wavelength (Angstroms)</text>
<text transform="translate(9.5 383) rotate(-90)" text-anchor="middle" style="font-family:'Liberation Sans', sans-serif;fill:#111;stroke:#111;stroke-width:0.32px;font-size:8.6px">Intensity</text>
<text x="32.2" y="490.8" style="font-family:'Liberation Sans', sans-serif;fill:#111;stroke:#111;stroke-width:0.32px;font-size:8.6px">0</text>
<text x="16.5" y="422" style="font-family:'Liberation Sans', sans-serif;fill:#111;stroke:#111;stroke-width:0.32px;font-size:8.6px">2<tspan x="21.8" dy="-0.7" style="font-size:6.6px">•</tspan><tspan x="24.55" dy="0.7">10</tspan><tspan x="34.4" dy="-4.3" style="font-size:4.8px">4</tspan></text>
<text x="16.5" y="350.7" style="font-family:'Liberation Sans', sans-serif;fill:#111;stroke:#111;stroke-width:0.32px;font-size:8.6px">4<tspan x="21.8" dy="-0.7" style="font-size:6.6px">•</tspan><tspan x="24.55" dy="0.7">10</tspan><tspan x="34.4" dy="-4.3" style="font-size:4.8px">4</tspan></text>
<text x="16.5" y="280.2" style="font-family:'Liberation Sans', sans-serif;fill:#111;stroke:#111;stroke-width:0.32px;font-size:8.6px">6<tspan x="21.8" dy="-0.7" style="font-size:6.6px">•</tspan><tspan x="24.55" dy="0.7">10</tspan><tspan x="34.4" dy="-4.3" style="font-size:4.8px">4</tspan></text>
<text x="238" y="335.7" style="font-family:'Liberation Sans', sans-serif;fill:#111;stroke:#111;stroke-width:0.32px;font-size:10.4px" textLength="29.2" lengthAdjust="spacingAndGlyphs">Y = 120</text>
</svg></body></html>
